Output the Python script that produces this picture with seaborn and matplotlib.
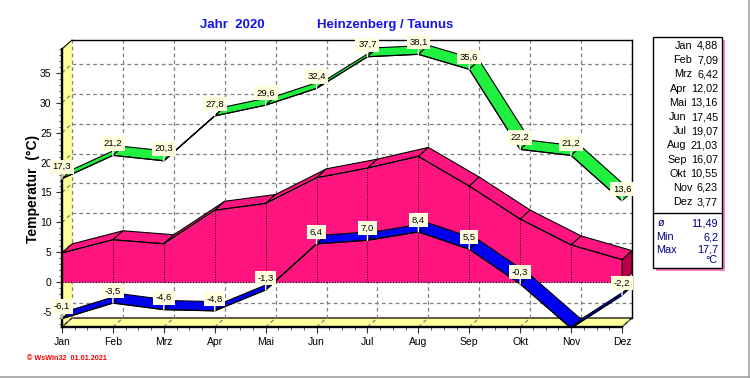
import numpy as np
import pandas as pd
import matplotlib
matplotlib.use("Agg")
import matplotlib.pyplot as plt
import seaborn as sns
from matplotlib.patches import Polygon, Rectangle
from matplotlib.lines import Line2D

# ---------------- data ----------------
months = ["Jan", "Feb", "Mrz", "Apr", "Mai", "Jun", "Jul", "Aug", "Sep", "Okt", "Nov", "Dez"]
t_max = [17.3, 21.2, 20.3, 27.8, 29.6, 32.4, 37.7, 38.1, 35.6, 22.2, 21.2, 13.6]
t_mean = [4.88, 7.09, 6.42, 12.02, 13.16, 17.45, 19.07, 21.03, 16.07, 10.55, 6.23, 3.77]
t_min = [-6.1, -3.5, -4.6, -4.8, -1.3, 6.4, 7.0, 8.4, 5.5, -0.3, -7.7, -2.2]
y_ticks = [-5, 0, 5, 10, 15, 20, 25, 30, 35]
stat_labels = ["ø", "Min", "Max"]
stat_values = ["11,49", "6,2", "17,7"]
unit_label = "°C"
title_year = "Jahr  2020"
title_station = "Heinzenberg / Taunus"
y_label = "Temperatur  (°C)"
footer = "© WsWin32  01.01.2021"

df = pd.DataFrame({"month": months, "idx": np.arange(len(months)),
                   "tmax": t_max, "tmean": t_mean, "tmin": t_min})

# ---------------- style ----------------
sns.set_theme(style="white")
plt.rcParams["font.family"] = ["Liberation Sans", "DejaVu Sans"]

GREEN = "#20F040"
PINK = "#FF1480"
PINK_DARK = "#B8004A"
BLUE = "#0000F0"
YELLOW = "#FFFF99"
LABEL_BG = "#FFFFE0"
GRID = "#808080"
TITLE_BLUE = "#1414E6"

W, H = 750, 378
fig = plt.figure(figsize=(W / 100, H / 100), dpi=100)
fig.patch.set_facecolor("white")


def fx(px):
    return px / W


def fy(py):
    return 1 - py / H


AX_L, AX_R, AX_T, AX_B = 62, 632, 40, 327
DEPTH_X, DEPTH_Y = 10, 9
ax = fig.add_axes([fx(AX_L), fy(AX_B), (AX_R - AX_L) / W, (AX_B - AX_T) / H])
ax.set_facecolor("none")

NM = len(months)
x = df["idx"].to_numpy(dtype=float)
YMIN, YMAX = -7.5, 40.5
px_per_month = (AX_R - AX_L - DEPTH_X) / (NM - 1)
px_per_deg = (AX_B - AX_T) / (YMAX - YMIN)
DX = DEPTH_X / px_per_month
DY = DEPTH_Y / px_per_deg
XLAST = NM - 1
XMAX = XLAST + DX
WALL_TOP = YMAX - DY
ax.set_xlim(0, XMAX)
ax.set_ylim(YMIN, YMAX)

# back plane
ax.add_patch(Rectangle((DX, YMIN + DY), XLAST, YMAX - YMIN - DY, fc="white", ec="none", zorder=0))
# left wall
ax.add_patch(Polygon([(0, YMIN), (0, WALL_TOP), (DX, YMAX), (DX, YMIN + DY)],
                     closed=True, fc=YELLOW, ec="none", zorder=1))
ax.plot([0, DX], [WALL_TOP, YMAX], color="black", lw=0.8, zorder=1.5, clip_on=False)
# floor
ax.add_patch(Polygon([(0, YMIN), (XLAST, YMIN), (XMAX, YMIN + DY), (DX, YMIN + DY)],
                     closed=True, fc=YELLOW, ec="black", lw=0.9, zorder=1))

# grid
gkw = dict(color=GRID, lw=0.9, ls=(0, (3, 2.5)), zorder=1.6)
for v in y_ticks:
    ax.plot([DX, XMAX], [v + DY, v + DY], **gkw)
    ax.plot([0, DX], [v, v + DY], **gkw)
for i in x:
    ax.plot([i + DX, i + DX], [YMIN + DY, YMAX], **gkw)
    ax.plot([i, i + DX], [YMIN, YMIN + DY], **gkw)

# ---------------- mean: 3D area ----------------
m = df["tmean"].to_numpy()
ax.fill_between(x, 0, m, color=PINK, lw=0, zorder=3)
for i in range(NM - 1):
    ax.fill([x[i], x[i + 1], x[i + 1] + DX, x[i] + DX],
            [m[i], m[i + 1], m[i + 1] + DY, m[i] + DY],
            fc=PINK, ec="black", lw=0.8, zorder=3.2)
ax.add_patch(Polygon([(XLAST, 0), (XLAST, m[-1]), (XMAX, m[-1] + DY), (XMAX, DY)],
                     closed=True, fc=PINK_DARK, ec="black", lw=0.6, zorder=3.1))
for i in range(1, NM):
    ax.plot([x[i], x[i]], [0, m[i]], color="black", lw=0.7, ls=(0, (1, 1.5)), zorder=3.3)
ax.plot([0, XLAST], [0, 0], color="black", lw=0.8, ls=(0, (1, 1.5)), zorder=3.3)
sns.lineplot(data=df, x="idx", y="tmean", color="black", lw=0.8, ax=ax, zorder=3.4)


# ---------------- ribbons ----------------
def ribbon(col, color, z):
    v = df[col].to_numpy()
    for i in range(NM - 1):
        ax.fill([x[i], x[i + 1], x[i + 1] + DX, x[i] + DX],
                [v[i], v[i + 1], v[i + 1] + DY, v[i] + DY],
                fc=color, ec="black", lw=0.8, zorder=z)
    sns.lineplot(data=df, x="idx", y=col, color="black", lw=0.8, ax=ax, zorder=z + 0.1)
    for i in range(NM):
        ax.annotate(f"{v[i]:.1f}".replace(".", ","), xy=(x[i], v[i]),
                    xytext=(0, 12), textcoords="offset pixels",
                    ha="center", va="center", fontsize=6.8, color="black", zorder=10,
                    bbox=dict(boxstyle="square,pad=0.28", fc=LABEL_BG, ec="none"),
                    arrowprops=dict(arrowstyle="-", color="white", lw=1.0,
                                    shrinkA=0, shrinkB=0))


ribbon("tmin", BLUE, 5)
ribbon("tmax", GREEN, 6)

# ---------------- axes, ticks ----------------
ax.set_xlabel("")
ax.set_ylabel("")
for s in ["left", "bottom"]:
    ax.spines[s].set_linewidth(1.7)
    ax.spines[s].set_color("black")
    ax.spines[s].set_zorder(8)
ax.spines["left"].set_bounds(YMIN, WALL_TOP)
ax.spines["bottom"].set_bounds(0, XLAST)
for s in ["top", "right"]:
    ax.spines[s].set_linewidth(1.0)
    ax.spines[s].set_color("black")
    ax.spines[s].set_visible(True)
ax.spines["top"].set_bounds(DX, XMAX)
ax.spines["right"].set_bounds(YMIN + DY, YMAX)

ax.set_xticks(x)
ax.set_xticklabels(months)
ax.set_xticks(np.arange(0, XLAST + 0.01, 0.25), minor=True)
ax.set_yticks(y_ticks)
ax.set_yticklabels([str(v) for v in y_ticks])
ax.set_yticks(np.arange(-7, 40, 1), minor=True)
ax.tick_params(axis="both", which="major", direction="out", length=4.5, width=0.8,
               color="#303030", labelsize=7.5, labelcolor="black", pad=3)
ax.tick_params(axis="both", which="minor", direction="out", length=2.5, width=0.7,
               color="#505050")
ax.tick_params(axis="x", which="both", bottom=True, top=False)
ax.tick_params(axis="y", which="both", left=True, right=False)
ax.grid(False)

# ---------------- texts ----------------
fig.text(fx(232), fy(25), title_year, ha="center", va="center", color=TITLE_BLUE,
         fontsize=9.5, fontweight="bold")
fig.text(fx(385), fy(25), title_station, ha="center", va="center", color=TITLE_BLUE,
         fontsize=9.5, fontweight="bold")
fig.text(fx(33), fy(189), y_label, rotation=90, ha="center", va="center",
         fontsize=10, fontweight="bold", color="black")
fig.text(fx(27), fy(358), footer, ha="left", va="center", color="red",
         fontsize=5.2, fontweight="bold")

# ---------------- side table ----------------
BOX_L, BOX_R, BOX_T, BOX_B = 653, 722, 37, 268
fig.add_artist(Rectangle((fx(BOX_L + 3), fy(BOX_B + 3)), (BOX_R - BOX_L) / W, (BOX_B - BOX_T) / H,
                         transform=fig.transFigure, fc="#FF80C8", ec="none"))
fig.add_artist(Rectangle((fx(BOX_L), fy(BOX_B)), (BOX_R - BOX_L) / W, (BOX_B - BOX_T) / H,
                         transform=fig.transFigure, fc="white", ec="black", lw=1.0))
row0, drow = 46, 14.2
for i, (mn, val) in enumerate(zip(months, t_mean)):
    sval = f"{val:.2f}".replace(".", ",")
    val_w = 6.0 * sum(c.isdigit() for c in sval) + 3.0 * sval.count(",")
    fig.text(fx(718), fy(row0 + i * drow), sval,
             ha="right", va="center", fontsize=7.8, color="black")
    fig.text(fx(718 - val_w - 4.5), fy(row0 + i * drow), mn,
             ha="right", va="center", fontsize=7.8, color="black")
fig.add_artist(Line2D([fx(BOX_L), fx(BOX_R)], [fy(213), fy(213)],
                      transform=fig.transFigure, color="black", lw=1.0))
for yy, lab, val in zip([223, 237, 250], stat_labels, stat_values):
    fig.text(fx(656 if lab != "ø" else 658), fy(yy), lab, ha="left", va="center",
             fontsize=7.8, color="#000080")
    fig.text(fx(718), fy(yy), val, ha="right", va="center", fontsize=7.8, color="#000080")
fig.text(fx(718), fy(260), unit_label, ha="right", va="center", fontsize=7.8, color="#000080")

# outer frame lines
fig.add_artist(Line2D([fx(748.5), fx(748.5)], [0, 1], transform=fig.transFigure,
                      color="#A0A0A0", lw=1.2))
fig.add_artist(Line2D([0, 1], [fy(376.5), fy(376.5)], transform=fig.transFigure,
                      color="#A0A0A0", lw=1.2))

fig.savefig("out.png", dpi=100, facecolor="white")
